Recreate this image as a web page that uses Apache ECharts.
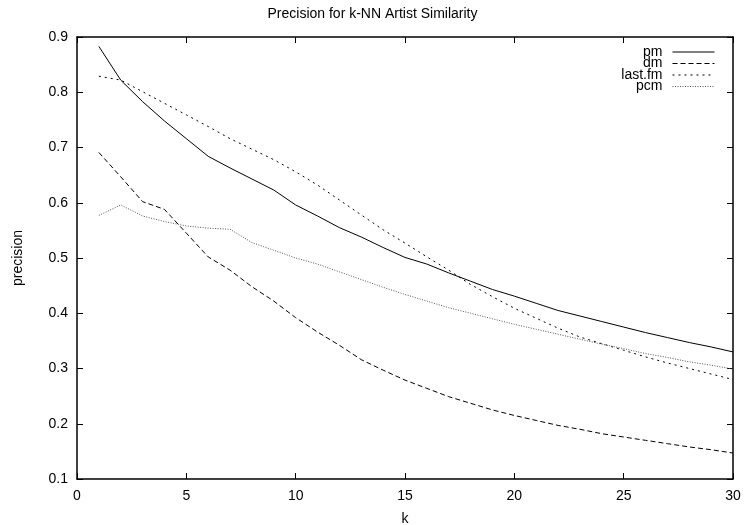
<!DOCTYPE html>
<html>
<head>
<meta charset="utf-8">
<script src="https://cdn.jsdelivr.net/npm/echarts@6/dist/echarts.min.js"></script>
<style>
  html, body { margin: 0; padding: 0; background: #fff; }
  #chart { width: 745px; height: 525px; }
</style>
</head>
<body>
<div id="chart"></div>
<script>
// Neighbourhood size k
const kValues = [1,2,3,4,5,6,7,8,9,10,11,12,13,14,15,16,17,18,19,20,21,22,23,24,25,26,27,28,29,30];

// Precision per similarity measure
const pm = [0.883,0.822,0.783,0.748,0.716,0.684,0.663,0.643,0.623,0.596,0.576,0.555,0.538,0.519,0.501,0.489,0.473,0.458,0.443,0.431,0.418,0.405,0.395,0.385,0.375,0.365,0.356,0.347,0.339,0.330];
const dm = [0.691,0.647,0.602,0.588,0.545,0.502,0.478,0.448,0.422,0.392,0.366,0.342,0.316,0.297,0.279,0.264,0.249,0.237,0.225,0.215,0.206,0.197,0.190,0.182,0.176,0.170,0.164,0.158,0.153,0.147];
const lastfm = [0.829,0.822,0.801,0.780,0.759,0.738,0.716,0.697,0.678,0.656,0.632,0.605,0.578,0.551,0.527,0.502,0.478,0.452,0.430,0.409,0.391,0.373,0.357,0.345,0.333,0.321,0.310,0.300,0.290,0.280];
const pcm = [0.577,0.596,0.576,0.566,0.558,0.554,0.552,0.528,0.514,0.500,0.489,0.475,0.461,0.447,0.434,0.422,0.410,0.400,0.390,0.380,0.371,0.362,0.353,0.344,0.336,0.327,0.320,0.312,0.306,0.299];

const seriesNames = ['pm', 'dm', 'last.fm', 'pcm'];
const xTicks = { min: 0, max: 30, step: 5 };
const yTicks = { min: 0.1, max: 0.9, step: 0.1 };

const FONT = "'Liberation Sans', Arial, Helvetica, sans-serif";
const FONT_SIZE = 14;

const lineStyles = {
  'pm':      { color: '#000', width: 1, type: 'solid' },
  'dm':      { color: '#000', width: 1, type: [5, 3] },
  'last.fm': { color: '#000', width: 1, type: [2, 4] },
  'pcm':     { color: '#555', width: 1, type: [1, 1.5] }
};

const dataBySeries = { 'pm': pm, 'dm': dm, 'last.fm': lastfm, 'pcm': pcm };

function pairs(values) {
  return kValues.map((k, i) => [k, values[i]]);
}

const tickStyle = { show: true, inside: true, length: 6, lineStyle: { color: '#000', width: 1 } };
const borderLine = { show: true, onZero: false, lineStyle: { color: '#000', width: 1.5 } };

function makeX(position, labels) {
  return {
    type: 'value', position: position,
    min: xTicks.min, max: xTicks.max, interval: xTicks.step,
    axisLine: borderLine, axisTick: tickStyle, splitLine: { show: false },
    axisLabel: { show: labels, color: '#000', fontFamily: FONT, fontSize: FONT_SIZE, margin: 10 },
    name: labels ? 'k' : '', nameLocation: 'middle', nameGap: 33,
    nameTextStyle: { color: '#000', fontFamily: FONT, fontSize: FONT_SIZE }
  };
}

function makeY(position, labels) {
  return {
    type: 'value', position: position,
    min: yTicks.min, max: yTicks.max, interval: yTicks.step,
    axisLine: borderLine, axisTick: tickStyle, splitLine: { show: false },
    axisLabel: { show: labels, color: '#000', fontFamily: FONT, fontSize: FONT_SIZE, margin: 9,
                 formatter: v => v.toFixed(1) },
    name: labels ? 'precision' : '', nameLocation: 'middle', nameGap: 52, nameRotate: 90,
    nameTextStyle: { color: '#000', fontFamily: FONT, fontSize: FONT_SIZE }
  };
}

// one legend box per entry, right-aligned so the samples line up
const legendRowsTop = [45, 56.5, 68, 79.5];
const legends = seriesNames.map((name, i) => ({
  data: [{ name: name, itemStyle: { opacity: 0 } }],
  right: 30, top: legendRowsTop[i],
  orient: 'horizontal', align: 'right',
  padding: 0, itemWidth: 42, itemHeight: 14,
  selectedMode: false,
  itemStyle: { opacity: 0 },
  lineStyle: { width: 1 },
  textStyle: { color: '#000', fontFamily: FONT, fontSize: FONT_SIZE, padding: [0, 5, 0, 0] }
}));

const chart = echarts.init(document.getElementById('chart'), null, { renderer: 'canvas' });
chart.setOption({
  animation: false,
  backgroundColor: '#fff',
  title: {
    text: 'Precision for k-NN Artist Similarity',
    left: 'center', top: 2,
    textStyle: { color: '#000', fontFamily: FONT, fontSize: FONT_SIZE, fontWeight: 'normal' }
  },
  legend: legends,
  grid: { left: 77, right: 12, top: 37, bottom: 46, containLabel: false, outerBoundsMode: 'none' },
  xAxis: [makeX('bottom', true), makeX('top', false)],
  yAxis: [makeY('left', true), makeY('right', false)],
  series: seriesNames.map(name => ({
    name: name,
    type: 'line',
    xAxisIndex: 0, yAxisIndex: 0,
    data: pairs(dataBySeries[name]),
    symbol: 'none',
    showSymbol: false,
    smooth: false,
    color: lineStyles[name].color,
    lineStyle: lineStyles[name],
    emphasis: { disabled: true }
  }))
});
</script>
</body>
</html>
